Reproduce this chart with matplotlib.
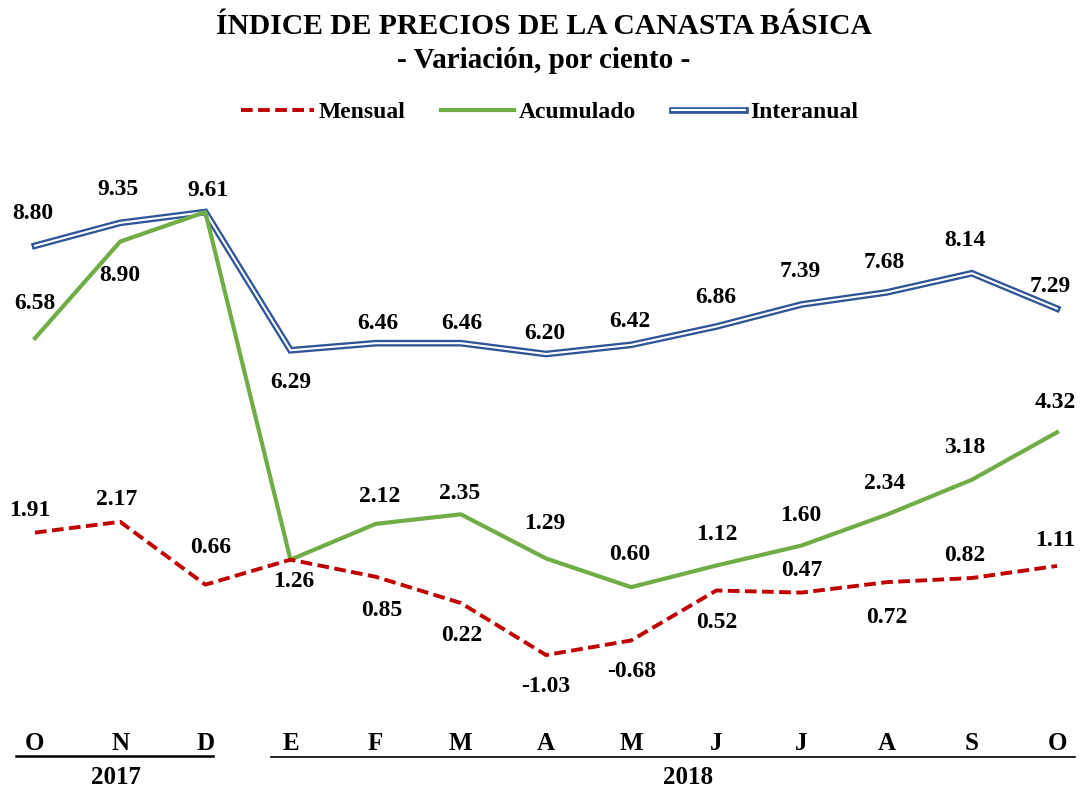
import matplotlib
matplotlib.use("Agg")
import matplotlib.pyplot as plt
import matplotlib.transforms as mtransforms
import matplotlib.patheffects as pe

plt.rcParams['font.family'] = ['Liberation Serif', 'DejaVu Serif']
plt.rcParams['font.weight'] = 'bold'

months = ["O", "N", "D", "E", "F", "M", "A", "M", "J", "J", "A", "S", "O"]
mensual = [1.91, 2.17, 0.66, 1.26, 0.85, 0.22, -1.03, -0.68, 0.52, 0.47, 0.72, 0.82, 1.11]
acumulado = [6.58, 8.90, 9.61, 1.26, 2.12, 2.35, 1.29, 0.60, 1.12, 1.60, 2.34, 3.18, 4.32]
interanual = [8.80, 9.35, 9.61, 6.29, 6.46, 6.46, 6.20, 6.42, 6.86, 7.39, 7.68, 8.14, 7.29]

# label offsets in pixels (dx, dy down positive)
off_men = [(-5, -22), (-3, -22), (5, -37), (3, 22), (6, 34), (1, 33), (0, 31),
           (0, 31), (0, 32), (0, -22), (0, 35), (-7, -23), (-2, -25)]
off_acu = [(0, -35), (0, 34), None, None, (4, -27), (-1, -21), (-1, -35),
           (-1, -33), (0, -31), (-1, -30), (-2, -31), (-7, -32), (-2, -30)]
off_int = [(-2, -32), (-2, -33), (3, -22), (0, 32), (2, -20), (1, -20), (-1, -21),
           (-1, -23), (-1, -29), (-1, -33), (-2, -30), (-7, -33), (-7, -22)]

RED = "#C00000"
GREEN = "#70AD47"
BLUE = "#2F5597"

fig = plt.figure(figsize=(10.88, 7.88), dpi=100)
ax = fig.add_axes([0, 88 / 788, 1, 550 / 788])
x = list(range(len(months)))

ax.plot(x, interanual, color="white", lw=1.5, solid_joinstyle="miter",
        path_effects=[pe.Stroke(linewidth=4.8, foreground=BLUE), pe.Normal()],
        label="Interanual", zorder=3)
ax.plot(x, acumulado, color=GREEN, lw=3.0, label="Acumulado", zorder=4)
ax.plot(x, mensual, color=RED, lw=2.8, dashes=(3.0, 1.4), label="Mensual", zorder=5)

ax.set_xlim(-35 / 85.17, 12 + 31 / 85.17)
ax.set_ylim(-2.11, 11.10)
for s in ax.spines.values():
    s.set_visible(False)
ax.set_yticks([])
ax.set_xticks(x)
ax.set_xticklabels(months, fontsize=18, fontweight="bold")
ax.tick_params(axis="x", length=0, pad=23)

def put_labels(vals, offs):
    for i, (v, o) in enumerate(zip(vals, offs)):
        if o is None:
            continue
        tr = mtransforms.offset_copy(ax.transData, fig=fig, x=o[0], y=-o[1], units="dots")
        ax.text(i, v, f"{v:.2f}", transform=tr, ha="center", va="center",
                fontsize=17, fontweight="bold", zorder=6)

put_labels(mensual, off_men)
put_labels(acumulado, off_acu)
put_labels(interanual, off_int)

# year brackets
trb = mtransforms.blended_transform_factory(ax.transData, ax.transAxes)
ax.plot([-0.22, 2.09], [-0.102, -0.102], color="black", lw=1.8, transform=trb, clip_on=False)
ax.plot([2.77, 12.21], [-0.104, -0.104], color="black", lw=1.2, transform=trb, clip_on=False)
ax.text(0.95, -0.141, "2017", transform=trb, ha="center", va="center", fontsize=18, fontweight="bold")
ax.text(7.67, -0.141, "2018", transform=trb, ha="center", va="center", fontsize=18, fontweight="bold")

fig.text(0.5, 1 - 27 / 788, "ÍNDICE DE PRECIOS DE LA CANASTA BÁSICA", ha="center", va="center",
         fontsize=21.3, fontweight="bold")
fig.text(0.5, 1 - 60 / 788, "- Variación, por ciento -", ha="center", va="center",
         fontsize=21, fontweight="bold")

h, l = ax.get_legend_handles_labels()
order = [2, 1, 0]
fig.legend([h[k] for k in order], [l[k] for k in order], loc="center",
           bbox_to_anchor=(0.505, 1 - 112 / 788), ncol=3, frameon=False,
           prop={"size": 17, "weight": "bold"}, handlelength=3.1,
           handletextpad=0.2, columnspacing=1.5)

fig.savefig("out.png", dpi=100)
